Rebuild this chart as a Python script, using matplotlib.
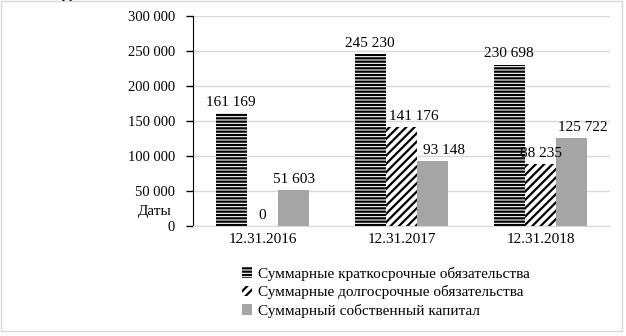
import matplotlib
matplotlib.use("Agg")
import matplotlib.pyplot as plt
import numpy as np
from matplotlib.patches import Rectangle

plt.rcParams["font.family"] = ["Liberation Serif", "DejaVu Serif"]
plt.rcParams["hatch.linewidth"] = 1.6

dates = ["12.31.2016", "12.31.2017", "12.31.2018"]
short_term = [161169, 245230, 230698]
long_term = [0, 141176, 88235]
equity = [51603, 93148, 125722]
series_names = ["Суммарные краткосрочные обязательства",
                "Суммарные долгосрочные обязательства",
                "Суммарный собственный капитал"]
y_ticks = [0, 50000, 100000, 150000, 200000, 250000, 300000]

GRAY = "#A5A5A5"
GRID = "#D9D9D9"


def fmt(v):
    return f"{v:,}".replace(",", " ")


fig = plt.figure(figsize=(6.26, 3.36), dpi=100)
ax = fig.add_axes([193 / 626, 1 - 226 / 336, 417 / 626, 210 / 336])

x = np.arange(len(dates))
w = 0.225
styles = [dict(facecolor="white", hatch="-----", edgecolor="black"),
          dict(facecolor="white", hatch="////", edgecolor="black"),
          dict(facecolor=GRAY, hatch=None, edgecolor=GRAY)]
# small horizontal nudges (points) of data labels, as in the source chart
label_dx = [[0, 0, 0], [0, 9, 8], [0, 0, 8]]

handles = []
for i, (vals, st) in enumerate(zip([short_term, long_term, equity], styles)):
    bars = ax.bar(x + (i - 1) * w, vals, width=w, lw=0, **st)
    handles.append(bars)
    for j, (b, v) in enumerate(zip(bars, vals)):
        ax.annotate(fmt(v), (b.get_x() + b.get_width() / 2, v),
                    xytext=(label_dx[j][i], 3), textcoords="offset points",
                    ha="center", va="bottom", fontsize=11)

ax.set_xlim(-0.5, 2.5)
ax.set_ylim(0, 300000)
ax.set_yticks(y_ticks)
ax.set_yticklabels([fmt(t) for t in y_ticks], fontsize=10.5)
ax.set_xticks(x)
ax.set_xticklabels(dates, fontsize=11)
ax.tick_params(axis="x", length=0, pad=5)
ax.tick_params(axis="y", length=5, width=1, direction="out", pad=8)
ax.yaxis.grid(True, color=GRID, lw=1)
ax.set_axisbelow(True)
for sp in ["top", "right"]:
    ax.spines[sp].set_visible(False)
ax.spines["bottom"].set_color(GRID)
ax.spines["left"].set_color("black")

leg = fig.legend(handles, series_names, loc="upper left",
                 bbox_to_anchor=(234 / 626, 1 - 259 / 336), frameon=False,
                 fontsize=11, handlelength=0.7, handleheight=0.7,
                 handletextpad=0.4, labelspacing=0.3, borderpad=0)

fig.text(155 / 626, 1 - 211 / 336, "Даты", fontsize=11, ha="center", va="center")
# unit label, mostly cropped off the top edge in the source picture
fig.text(30 / 626, 1.0 + 6 / 336, "тыс. руб.", fontsize=11, ha="left", va="center")

fig.patches.append(Rectangle((0.5 / 626, 1 - 331 / 336), 621 / 626, 330 / 336,
                             transform=fig.transFigure, fill=False,
                             edgecolor=GRID, lw=1))

fig.savefig("out.png", dpi=100)
